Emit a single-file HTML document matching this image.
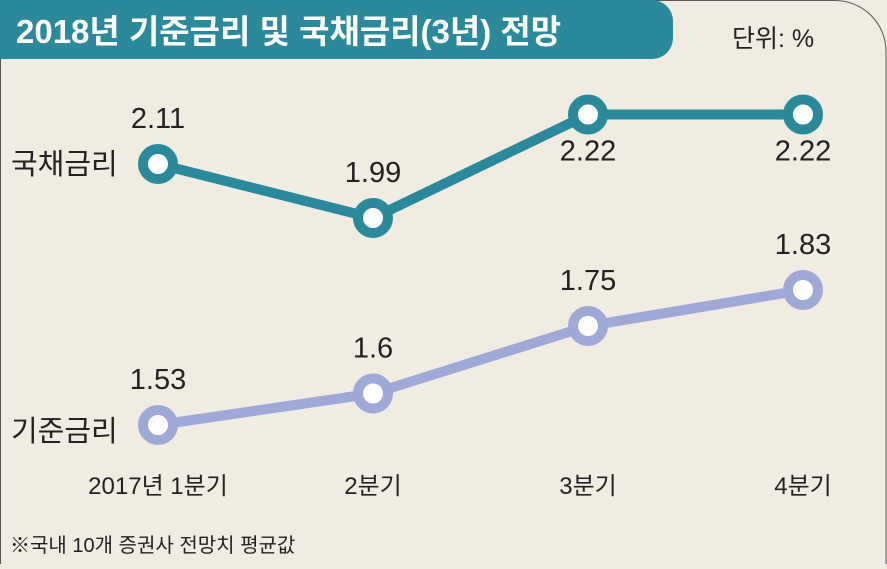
<!DOCTYPE html>
<html><head><meta charset="utf-8"><style>
body{margin:0;width:887px;height:564px;overflow:hidden;background:#f0ece2;}
text{font-family:"Liberation Sans","Noto Sans CJK KR",sans-serif;}
</style></head><body>
<svg width="887" height="564" viewBox="0 0 887 564" xmlns="http://www.w3.org/2000/svg">
<path d="M0.5 0.5 H835 A51 51 0 0 1 886 51 V564 M0.5 0.5 V564" fill="none" stroke="#555" stroke-width="1"/>
<path d="M0 0 H652 A21 21 0 0 1 673 21 V38 A21 21 0 0 1 652 59 H0 Z" fill="#2a8a9b"/>
<text x="16" y="43" font-size="33" font-weight="bold" fill="#fff">2018년 기준금리 및 국채금리(3년) 전망</text>
<text x="732" y="47" font-size="25" fill="#222">단위: %</text>
<text x="11" y="174" font-size="29" fill="#222">국채금리</text>
<text x="11" y="441" font-size="29" fill="#222">기준금리</text>
<text x="10" y="552" font-size="20" fill="#222">※국내 10개 증권사 전망치 평균값</text>
<g id="marks"></g>
</svg>
<script>
const categories=["2017년 1분기","2분기","3분기","4분기"];
const bondValues=[2.11,1.99,2.22,2.22];
const baseValues=[1.53,1.6,1.75,1.83];
const bondLabels=["2.11","1.99","2.22","2.22"];
const baseLabels=["1.53","1.6","1.75","1.83"];
const bondLabelPos=["above","above","below","below"];
const ns="http://www.w3.org/2000/svg";
const g=document.getElementById('marks');
function x(i){return 158+i*215;}
function y(v){return 164-(v-2.11)*450;}
function mk(t,a){const e=document.createElementNS(ns,t);for(const k in a)e.setAttribute(k,a[k]);g.appendChild(e);return e;}
function series(vals,labels,pos,color,name){
  const pts=vals.map((v,i)=>x(i)+","+y(v)).join(" ");
  const l=mk('polyline',{points:pts,fill:"none",stroke:color,"stroke-width":10,"stroke-linejoin":"round"});
  
  
  vals.forEach((v,i)=>{
    const c=mk('circle',{cx:x(i),cy:y(v),r:15,fill:"#fff",stroke:color,"stroke-width":10});
    
    
    const ty=pos[i]==="above"?y(v)-36:y(v)+46;
    const t=mk('text',{x:x(i),y:ty,"font-size":29,"text-anchor":"middle",fill:"#222"});
    t.textContent=labels[i];
    
    
  });
}
series(bondValues,bondLabels,bondLabelPos,"#2a8a9b","bond");
series(baseValues,baseLabels,["above","above","above","above"],"#9ea9d8","base");
categories.forEach((c,i)=>{
  const t=mk('text',{x:x(i)+(i===0?0:0),y:494,"font-size":24,"text-anchor":"middle",fill:"#222"});
  t.textContent=c;
  
  
});
</script>
</body></html>
